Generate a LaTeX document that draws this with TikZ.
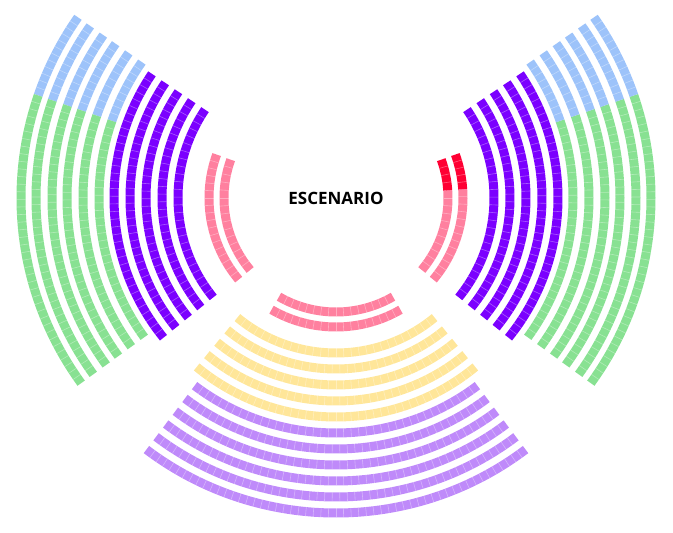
\documentclass[tikz,border=0pt]{standalone}
\usepackage{fontspec}
\setmainfont{Open Sans}
\definecolor{cblue}{HTML}{9DC3FA}
\definecolor{cgreen}{HTML}{88E192}
\definecolor{cpurple}{HTML}{7B00FF}
\definecolor{cpink}{HTML}{FF809F}
\definecolor{cred}{HTML}{FF0033}
\definecolor{cyellow}{HTML}{FFE699}
\definecolor{clilac}{HTML}{BF8AFA}
\newcommand\seatrow[4]{%
 \draw[seat,#1] (C) ++(#3:#2) arc[start angle=#3, end angle=#4, radius=#2];
 \pgfmathtruncatemacro\nn{max(1,round((#4-#3)*0.017453*#2/7.6))}%
 \pgfmathsetmacro\da{(#4-#3)/\nn}%
 \pgfmathsetmacro\ri{#2-4.5}\pgfmathsetmacro\ro{#2+4.5}%
 \foreach \k in {2,...,\nn}{%
   \pgfmathsetmacro\sa{#3+(\k-1)*\da}%
   \draw[sep] (C) ++(\sa:\ri) -- ++(\sa:9);
 }}
\begin{document}
\begin{tikzpicture}[x=1pt,y=1pt,seat/.style={line width=9pt},sep/.style={white,opacity=0.35,line width=0.6pt}]
\useasboundingbox (0,0) rectangle (673,533);
\coordinate (C) at (336,335);
\node[font=\fontsize{17}{17}\selectfont\bfseries] (stage) at (C) {ESCENARIO};
% left
\foreach \r in {112,127}{\seatrow{cpink}{\r}{160}{220}}
\foreach \r in {158,174,190,206,222}{\seatrow{cpurple}{\r}{146}{219}}
\foreach \r in {237,253,269,284,300,315}{\seatrow{cblue}{\r}{145}{161}\seatrow{cgreen}{\r}{161}{216}}
% right
\foreach \r in {112,127}{\seatrow{cpink}{\r}{-40}{4}\seatrow{cred}{\r}{4}{20}}
\foreach \r in {158,174,190,206,222}{\seatrow{cpurple}{\r}{-39}{34}}
\foreach \r in {237,253,269,284,300,315}{\seatrow{cgreen}{\r}{-36}{19}\seatrow{cblue}{\r}{19}{35}}
% bottom
\foreach \r in {114,129}{\seatrow{cpink}{\r}{240}{300}}
\foreach \r in {155,171,187,203,219}{\seatrow{cyellow}{\r}{230.5}{309.5}}
\foreach \r in {235,251,267,283,299,315}{\seatrow{clilac}{\r}{233}{307}}
\end{tikzpicture}
\end{document}
